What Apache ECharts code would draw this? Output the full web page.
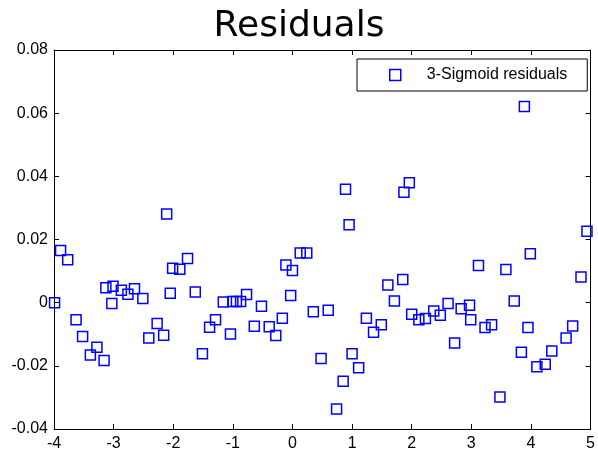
<!DOCTYPE html>
<html>
<head>
<meta charset="utf-8">
<script src="https://cdn.jsdelivr.net/npm/echarts@6/dist/echarts.min.js"></script>
<style>
  html, body { margin: 0; padding: 0; background: #ffffff; }
  #chart { width: 598px; height: 452px; }
</style>
</head>
<body>
<div id="chart"></div>
<script>
// residual points
var xValues = [
  -3.99, -3.89, -3.77, -3.63, -3.52, -3.39, -3.28, -3.16, -3.13, -3.03,
  -3.01, -2.87, -2.76, -2.65, -2.51, -2.41, -2.27, -2.16, -2.11, -2.05,
  -2.01, -1.89, -1.76, -1.63, -1.51, -1.39, -1.29, -1.16, -1.04, -1.00,
  -0.94, -0.87, -0.77, -0.64, -0.52, -0.39, -0.28, -0.17, -0.11, -0.03,
  0.00, 0.13, 0.24, 0.35, 0.48, 0.60, 0.74, 0.85, 0.89, 0.95,
  1.00, 1.11, 1.24, 1.36, 1.49, 1.60, 1.71, 1.85, 1.87, 1.96,
  2.00, 2.12, 2.23, 2.37, 2.48, 2.61, 2.72, 2.83, 2.97, 2.99,
  3.12, 3.23, 3.34, 3.48, 3.58, 3.72, 3.84, 3.89, 3.95, 3.99,
  4.10, 4.24, 4.35, 4.59, 4.70, 4.84, 4.94
];
var yValues = [
  0.0000, 0.0165, 0.0136, -0.0054, -0.0107, -0.0166, -0.0141, -0.0183, 0.0047, -0.0003,
  0.0052, 0.0039, 0.0027, 0.0044, 0.0013, -0.0112, -0.0066, -0.0103, 0.0281, 0.0030,
  0.0109, 0.0106, 0.0140, 0.0034, -0.0162, -0.0078, -0.0054, 0.0002, -0.0099, 0.0004,
  0.0004, 0.0004, 0.0026, -0.0075, -0.0011, -0.0076, -0.0104, -0.0049, 0.0119, 0.0023,
  0.0102, 0.0157, 0.0157, -0.0029, -0.0177, -0.0024, -0.0337, -0.0249, 0.0359, 0.0247,
  -0.0162, -0.0206, -0.0049, -0.0094, -0.0070, 0.0056, 0.0005, 0.0073, 0.0350, 0.0380,
  -0.0037, -0.0054, -0.0050, -0.0026, -0.0040, -0.0003, -0.0128, -0.0019, -0.0008, -0.0054,
  0.0118, -0.0079, -0.0070, -0.0299, 0.0105, 0.0005, -0.0157, 0.0621, -0.0079, 0.0155,
  -0.0203, -0.0195, -0.0153, -0.0112, -0.0074, 0.0081, 0.0226
];
var seriesName = "3-Sigmoid residuals";
var titleText = "Residuals";

var points = [];
for (var i = 0; i < xValues.length; i++) {
  points.push([xValues[i], yValues[i]]);
}

var labelFont = "'Liberation Sans', Arial, sans-serif";
var tickStyle = { show: true, inside: true, length: 5, lineStyle: { color: "#000", width: 1 } };
var lineStyle = { show: true, onZero: false, lineStyle: { color: "#000", width: 1 } };

var myChart = echarts.init(document.getElementById("chart"), null, { renderer: "canvas" });
myChart.setOption({
  animation: false,
  backgroundColor: "#ffffff",
  title: {
    text: titleText,
    left: "center",
    top: 4,
    textStyle: { fontFamily: "'DejaVu Sans', sans-serif", fontSize: 36, fontWeight: "normal", color: "#000" }
  },
  legend: {
    left: 357,
    top: 59,
    orient: "horizontal",
    padding: [8, 20, 8, 32],
    itemWidth: 11,
    itemHeight: 11,
    borderColor: "#000",
    borderWidth: 1,
    backgroundColor: "#fff",
    icon: "rect",
    itemStyle: { color: "rgba(0,0,0,0)", borderColor: "#0000ff", borderWidth: 1.5 },
    textStyle: { fontFamily: labelFont, fontSize: 16, color: "#000", padding: [0, 0, 0, 21] },
    data: [seriesName]
  },
  grid: { left: 54, right: 4, top: 50, bottom: 23, containLabel: false },
  xAxis: [
    {
      type: "value", min: -4, max: 5, interval: 1,
      axisLine: lineStyle, axisTick: tickStyle, splitLine: { show: false },
      axisLabel: { fontFamily: labelFont, fontSize: 16, color: "#000", margin: 7 }
    },
    {
      type: "value", position: "top", min: -4, max: 5, interval: 1,
      axisLine: lineStyle, axisTick: tickStyle, splitLine: { show: false },
      axisLabel: { show: false }
    }
  ],
  yAxis: [
    {
      type: "value", min: -0.04, max: 0.08, interval: 0.02,
      axisLine: lineStyle, axisTick: tickStyle, splitLine: { show: false },
      axisLabel: {
        fontFamily: labelFont, fontSize: 16, color: "#000", margin: 6,
        formatter: function (v) { return Math.abs(v) < 1e-9 ? "0" : v.toFixed(2); }
      }
    },
    {
      type: "value", position: "right", min: -0.04, max: 0.08, interval: 0.02,
      axisLine: lineStyle, axisTick: tickStyle, splitLine: { show: false },
      axisLabel: { show: false }
    }
  ],
  series: [
    {
      name: seriesName,
      type: "scatter",
      xAxisIndex: 0,
      yAxisIndex: 0,
      symbol: "rect",
      symbolSize: 10,
      clip: false,
      itemStyle: { color: "rgba(0,0,0,0)", borderColor: "#0000ff", borderWidth: 1.5, opacity: 1 },
      data: points
    }
  ]
});
window.addEventListener("resize", function () {
  myChart.resize();
});
</script>
</body>
</html>
